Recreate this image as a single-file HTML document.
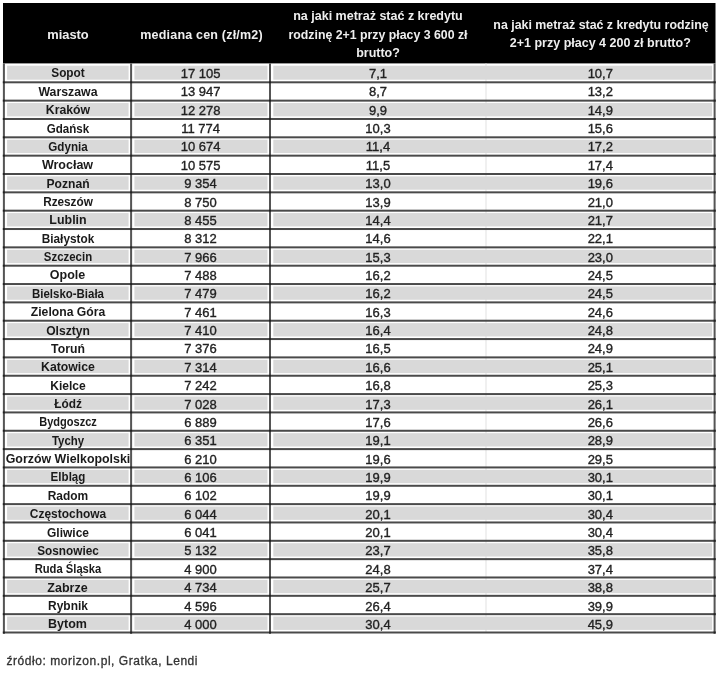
<!DOCTYPE html>
<html><head><meta charset="utf-8"><style>
*{margin:0;padding:0;box-sizing:border-box}
html,body{width:720px;height:673px;background:#fff;overflow:hidden}
body{position:relative;font-family:"Liberation Sans",sans-serif}
svg{position:absolute;left:0;top:0}
#w{position:absolute;left:0;top:0;width:720px;height:673px;filter:blur(0.4px)}
.t{position:absolute;white-space:nowrap;text-align:center;line-height:1;width:300px}
.c{font-weight:bold;font-size:12.5px;color:#1a1a1a}
.n{font-size:13px;color:#222;-webkit-text-stroke:0.35px #222}
.h{font-weight:bold;font-size:12.5px;color:#eee}
.f{position:absolute;white-space:nowrap;line-height:1;font-size:12px;color:#333;letter-spacing:0.55px;-webkit-text-stroke:0.3px #333}
</style></head>
<body>
<div id="w">
<svg width="720" height="673" viewBox="0 0 720 673">
<rect x="3" y="3" width="712.5" height="60.40" fill="#000"/>
<rect x="485.50" y="63.40" width="1" height="569.10" fill="#e2e2e2"/>
<rect x="7.10" y="65.70" width="121.50" height="14.00" fill="#d9d9d9"/>
<rect x="134.40" y="65.70" width="133.10" height="14.00" fill="#d9d9d9"/>
<rect x="273.30" y="65.70" width="438.80" height="14.00" fill="#d9d9d9"/>
<rect x="7.10" y="103.04" width="121.50" height="13.34" fill="#d9d9d9"/>
<rect x="134.40" y="103.04" width="133.10" height="13.34" fill="#d9d9d9"/>
<rect x="273.30" y="103.04" width="438.80" height="13.34" fill="#d9d9d9"/>
<rect x="7.10" y="139.72" width="121.50" height="13.34" fill="#d9d9d9"/>
<rect x="134.40" y="139.72" width="133.10" height="13.34" fill="#d9d9d9"/>
<rect x="273.30" y="139.72" width="438.80" height="13.34" fill="#d9d9d9"/>
<rect x="7.10" y="176.40" width="121.50" height="13.34" fill="#d9d9d9"/>
<rect x="134.40" y="176.40" width="133.10" height="13.34" fill="#d9d9d9"/>
<rect x="273.30" y="176.40" width="438.80" height="13.34" fill="#d9d9d9"/>
<rect x="7.10" y="213.08" width="121.50" height="13.34" fill="#d9d9d9"/>
<rect x="134.40" y="213.08" width="133.10" height="13.34" fill="#d9d9d9"/>
<rect x="273.30" y="213.08" width="438.80" height="13.34" fill="#d9d9d9"/>
<rect x="7.10" y="249.76" width="121.50" height="13.34" fill="#d9d9d9"/>
<rect x="134.40" y="249.76" width="133.10" height="13.34" fill="#d9d9d9"/>
<rect x="273.30" y="249.76" width="438.80" height="13.34" fill="#d9d9d9"/>
<rect x="7.10" y="286.44" width="121.50" height="13.34" fill="#d9d9d9"/>
<rect x="134.40" y="286.44" width="133.10" height="13.34" fill="#d9d9d9"/>
<rect x="273.30" y="286.44" width="438.80" height="13.34" fill="#d9d9d9"/>
<rect x="7.10" y="323.12" width="121.50" height="13.34" fill="#d9d9d9"/>
<rect x="134.40" y="323.12" width="133.10" height="13.34" fill="#d9d9d9"/>
<rect x="273.30" y="323.12" width="438.80" height="13.34" fill="#d9d9d9"/>
<rect x="7.10" y="359.80" width="121.50" height="13.34" fill="#d9d9d9"/>
<rect x="134.40" y="359.80" width="133.10" height="13.34" fill="#d9d9d9"/>
<rect x="273.30" y="359.80" width="438.80" height="13.34" fill="#d9d9d9"/>
<rect x="7.10" y="396.48" width="121.50" height="13.34" fill="#d9d9d9"/>
<rect x="134.40" y="396.48" width="133.10" height="13.34" fill="#d9d9d9"/>
<rect x="273.30" y="396.48" width="438.80" height="13.34" fill="#d9d9d9"/>
<rect x="7.10" y="433.16" width="121.50" height="13.34" fill="#d9d9d9"/>
<rect x="134.40" y="433.16" width="133.10" height="13.34" fill="#d9d9d9"/>
<rect x="273.30" y="433.16" width="438.80" height="13.34" fill="#d9d9d9"/>
<rect x="7.10" y="469.84" width="121.50" height="13.34" fill="#d9d9d9"/>
<rect x="134.40" y="469.84" width="133.10" height="13.34" fill="#d9d9d9"/>
<rect x="273.30" y="469.84" width="438.80" height="13.34" fill="#d9d9d9"/>
<rect x="7.10" y="506.52" width="121.50" height="13.34" fill="#d9d9d9"/>
<rect x="134.40" y="506.52" width="133.10" height="13.34" fill="#d9d9d9"/>
<rect x="273.30" y="506.52" width="438.80" height="13.34" fill="#d9d9d9"/>
<rect x="7.10" y="543.20" width="121.50" height="13.34" fill="#d9d9d9"/>
<rect x="134.40" y="543.20" width="133.10" height="13.34" fill="#d9d9d9"/>
<rect x="273.30" y="543.20" width="438.80" height="13.34" fill="#d9d9d9"/>
<rect x="7.10" y="579.88" width="121.50" height="13.34" fill="#d9d9d9"/>
<rect x="134.40" y="579.88" width="133.10" height="13.34" fill="#d9d9d9"/>
<rect x="273.30" y="579.88" width="438.80" height="13.34" fill="#d9d9d9"/>
<rect x="7.10" y="616.56" width="121.50" height="13.34" fill="#d9d9d9"/>
<rect x="134.40" y="616.56" width="133.10" height="13.34" fill="#d9d9d9"/>
<rect x="273.30" y="616.56" width="438.80" height="13.34" fill="#d9d9d9"/>
<rect x="2.90" y="81.30" width="712.70" height="2" fill="#4a4a4a"/>
<rect x="2.90" y="99.64" width="712.70" height="2" fill="#4a4a4a"/>
<rect x="2.90" y="117.98" width="712.70" height="2" fill="#4a4a4a"/>
<rect x="2.90" y="136.32" width="712.70" height="2" fill="#4a4a4a"/>
<rect x="2.90" y="154.66" width="712.70" height="2" fill="#4a4a4a"/>
<rect x="2.90" y="173.00" width="712.70" height="2" fill="#4a4a4a"/>
<rect x="2.90" y="191.34" width="712.70" height="2" fill="#4a4a4a"/>
<rect x="2.90" y="209.68" width="712.70" height="2" fill="#4a4a4a"/>
<rect x="2.90" y="228.02" width="712.70" height="2" fill="#4a4a4a"/>
<rect x="2.90" y="246.36" width="712.70" height="2" fill="#4a4a4a"/>
<rect x="2.90" y="264.70" width="712.70" height="2" fill="#4a4a4a"/>
<rect x="2.90" y="283.04" width="712.70" height="2" fill="#4a4a4a"/>
<rect x="2.90" y="301.38" width="712.70" height="2" fill="#4a4a4a"/>
<rect x="2.90" y="319.72" width="712.70" height="2" fill="#4a4a4a"/>
<rect x="2.90" y="338.06" width="712.70" height="2" fill="#4a4a4a"/>
<rect x="2.90" y="356.40" width="712.70" height="2" fill="#4a4a4a"/>
<rect x="2.90" y="374.74" width="712.70" height="2" fill="#4a4a4a"/>
<rect x="2.90" y="393.08" width="712.70" height="2" fill="#4a4a4a"/>
<rect x="2.90" y="411.42" width="712.70" height="2" fill="#4a4a4a"/>
<rect x="2.90" y="429.76" width="712.70" height="2" fill="#4a4a4a"/>
<rect x="2.90" y="448.10" width="712.70" height="2" fill="#4a4a4a"/>
<rect x="2.90" y="466.44" width="712.70" height="2" fill="#4a4a4a"/>
<rect x="2.90" y="484.78" width="712.70" height="2" fill="#4a4a4a"/>
<rect x="2.90" y="503.12" width="712.70" height="2" fill="#4a4a4a"/>
<rect x="2.90" y="521.46" width="712.70" height="2" fill="#4a4a4a"/>
<rect x="2.90" y="539.80" width="712.70" height="2" fill="#4a4a4a"/>
<rect x="2.90" y="558.14" width="712.70" height="2" fill="#4a4a4a"/>
<rect x="2.90" y="576.48" width="712.70" height="2" fill="#4a4a4a"/>
<rect x="2.90" y="594.82" width="712.70" height="2" fill="#4a4a4a"/>
<rect x="2.90" y="613.16" width="712.70" height="2" fill="#4a4a4a"/>
<rect x="2.90" y="631.50" width="712.70" height="2" fill="#4a4a4a"/>
<rect x="2.90" y="63.40" width="2" height="570.10" fill="#555"/>
<rect x="130.10" y="63.40" width="2" height="570.10" fill="#555"/>
<rect x="269.00" y="63.40" width="2" height="570.10" fill="#555"/>
<rect x="713.60" y="63.40" width="2" height="570.10" fill="#555"/>
<rect x="2.90" y="81.30" width="2" height="2" fill="#222"/>
<rect x="130.10" y="81.30" width="2" height="2" fill="#222"/>
<rect x="269.00" y="81.30" width="2" height="2" fill="#222"/>
<rect x="713.60" y="81.30" width="2" height="2" fill="#222"/>
<rect x="2.90" y="99.64" width="2" height="2" fill="#222"/>
<rect x="130.10" y="99.64" width="2" height="2" fill="#222"/>
<rect x="269.00" y="99.64" width="2" height="2" fill="#222"/>
<rect x="713.60" y="99.64" width="2" height="2" fill="#222"/>
<rect x="2.90" y="117.98" width="2" height="2" fill="#222"/>
<rect x="130.10" y="117.98" width="2" height="2" fill="#222"/>
<rect x="269.00" y="117.98" width="2" height="2" fill="#222"/>
<rect x="713.60" y="117.98" width="2" height="2" fill="#222"/>
<rect x="2.90" y="136.32" width="2" height="2" fill="#222"/>
<rect x="130.10" y="136.32" width="2" height="2" fill="#222"/>
<rect x="269.00" y="136.32" width="2" height="2" fill="#222"/>
<rect x="713.60" y="136.32" width="2" height="2" fill="#222"/>
<rect x="2.90" y="154.66" width="2" height="2" fill="#222"/>
<rect x="130.10" y="154.66" width="2" height="2" fill="#222"/>
<rect x="269.00" y="154.66" width="2" height="2" fill="#222"/>
<rect x="713.60" y="154.66" width="2" height="2" fill="#222"/>
<rect x="2.90" y="173.00" width="2" height="2" fill="#222"/>
<rect x="130.10" y="173.00" width="2" height="2" fill="#222"/>
<rect x="269.00" y="173.00" width="2" height="2" fill="#222"/>
<rect x="713.60" y="173.00" width="2" height="2" fill="#222"/>
<rect x="2.90" y="191.34" width="2" height="2" fill="#222"/>
<rect x="130.10" y="191.34" width="2" height="2" fill="#222"/>
<rect x="269.00" y="191.34" width="2" height="2" fill="#222"/>
<rect x="713.60" y="191.34" width="2" height="2" fill="#222"/>
<rect x="2.90" y="209.68" width="2" height="2" fill="#222"/>
<rect x="130.10" y="209.68" width="2" height="2" fill="#222"/>
<rect x="269.00" y="209.68" width="2" height="2" fill="#222"/>
<rect x="713.60" y="209.68" width="2" height="2" fill="#222"/>
<rect x="2.90" y="228.02" width="2" height="2" fill="#222"/>
<rect x="130.10" y="228.02" width="2" height="2" fill="#222"/>
<rect x="269.00" y="228.02" width="2" height="2" fill="#222"/>
<rect x="713.60" y="228.02" width="2" height="2" fill="#222"/>
<rect x="2.90" y="246.36" width="2" height="2" fill="#222"/>
<rect x="130.10" y="246.36" width="2" height="2" fill="#222"/>
<rect x="269.00" y="246.36" width="2" height="2" fill="#222"/>
<rect x="713.60" y="246.36" width="2" height="2" fill="#222"/>
<rect x="2.90" y="264.70" width="2" height="2" fill="#222"/>
<rect x="130.10" y="264.70" width="2" height="2" fill="#222"/>
<rect x="269.00" y="264.70" width="2" height="2" fill="#222"/>
<rect x="713.60" y="264.70" width="2" height="2" fill="#222"/>
<rect x="2.90" y="283.04" width="2" height="2" fill="#222"/>
<rect x="130.10" y="283.04" width="2" height="2" fill="#222"/>
<rect x="269.00" y="283.04" width="2" height="2" fill="#222"/>
<rect x="713.60" y="283.04" width="2" height="2" fill="#222"/>
<rect x="2.90" y="301.38" width="2" height="2" fill="#222"/>
<rect x="130.10" y="301.38" width="2" height="2" fill="#222"/>
<rect x="269.00" y="301.38" width="2" height="2" fill="#222"/>
<rect x="713.60" y="301.38" width="2" height="2" fill="#222"/>
<rect x="2.90" y="319.72" width="2" height="2" fill="#222"/>
<rect x="130.10" y="319.72" width="2" height="2" fill="#222"/>
<rect x="269.00" y="319.72" width="2" height="2" fill="#222"/>
<rect x="713.60" y="319.72" width="2" height="2" fill="#222"/>
<rect x="2.90" y="338.06" width="2" height="2" fill="#222"/>
<rect x="130.10" y="338.06" width="2" height="2" fill="#222"/>
<rect x="269.00" y="338.06" width="2" height="2" fill="#222"/>
<rect x="713.60" y="338.06" width="2" height="2" fill="#222"/>
<rect x="2.90" y="356.40" width="2" height="2" fill="#222"/>
<rect x="130.10" y="356.40" width="2" height="2" fill="#222"/>
<rect x="269.00" y="356.40" width="2" height="2" fill="#222"/>
<rect x="713.60" y="356.40" width="2" height="2" fill="#222"/>
<rect x="2.90" y="374.74" width="2" height="2" fill="#222"/>
<rect x="130.10" y="374.74" width="2" height="2" fill="#222"/>
<rect x="269.00" y="374.74" width="2" height="2" fill="#222"/>
<rect x="713.60" y="374.74" width="2" height="2" fill="#222"/>
<rect x="2.90" y="393.08" width="2" height="2" fill="#222"/>
<rect x="130.10" y="393.08" width="2" height="2" fill="#222"/>
<rect x="269.00" y="393.08" width="2" height="2" fill="#222"/>
<rect x="713.60" y="393.08" width="2" height="2" fill="#222"/>
<rect x="2.90" y="411.42" width="2" height="2" fill="#222"/>
<rect x="130.10" y="411.42" width="2" height="2" fill="#222"/>
<rect x="269.00" y="411.42" width="2" height="2" fill="#222"/>
<rect x="713.60" y="411.42" width="2" height="2" fill="#222"/>
<rect x="2.90" y="429.76" width="2" height="2" fill="#222"/>
<rect x="130.10" y="429.76" width="2" height="2" fill="#222"/>
<rect x="269.00" y="429.76" width="2" height="2" fill="#222"/>
<rect x="713.60" y="429.76" width="2" height="2" fill="#222"/>
<rect x="2.90" y="448.10" width="2" height="2" fill="#222"/>
<rect x="130.10" y="448.10" width="2" height="2" fill="#222"/>
<rect x="269.00" y="448.10" width="2" height="2" fill="#222"/>
<rect x="713.60" y="448.10" width="2" height="2" fill="#222"/>
<rect x="2.90" y="466.44" width="2" height="2" fill="#222"/>
<rect x="130.10" y="466.44" width="2" height="2" fill="#222"/>
<rect x="269.00" y="466.44" width="2" height="2" fill="#222"/>
<rect x="713.60" y="466.44" width="2" height="2" fill="#222"/>
<rect x="2.90" y="484.78" width="2" height="2" fill="#222"/>
<rect x="130.10" y="484.78" width="2" height="2" fill="#222"/>
<rect x="269.00" y="484.78" width="2" height="2" fill="#222"/>
<rect x="713.60" y="484.78" width="2" height="2" fill="#222"/>
<rect x="2.90" y="503.12" width="2" height="2" fill="#222"/>
<rect x="130.10" y="503.12" width="2" height="2" fill="#222"/>
<rect x="269.00" y="503.12" width="2" height="2" fill="#222"/>
<rect x="713.60" y="503.12" width="2" height="2" fill="#222"/>
<rect x="2.90" y="521.46" width="2" height="2" fill="#222"/>
<rect x="130.10" y="521.46" width="2" height="2" fill="#222"/>
<rect x="269.00" y="521.46" width="2" height="2" fill="#222"/>
<rect x="713.60" y="521.46" width="2" height="2" fill="#222"/>
<rect x="2.90" y="539.80" width="2" height="2" fill="#222"/>
<rect x="130.10" y="539.80" width="2" height="2" fill="#222"/>
<rect x="269.00" y="539.80" width="2" height="2" fill="#222"/>
<rect x="713.60" y="539.80" width="2" height="2" fill="#222"/>
<rect x="2.90" y="558.14" width="2" height="2" fill="#222"/>
<rect x="130.10" y="558.14" width="2" height="2" fill="#222"/>
<rect x="269.00" y="558.14" width="2" height="2" fill="#222"/>
<rect x="713.60" y="558.14" width="2" height="2" fill="#222"/>
<rect x="2.90" y="576.48" width="2" height="2" fill="#222"/>
<rect x="130.10" y="576.48" width="2" height="2" fill="#222"/>
<rect x="269.00" y="576.48" width="2" height="2" fill="#222"/>
<rect x="713.60" y="576.48" width="2" height="2" fill="#222"/>
<rect x="2.90" y="594.82" width="2" height="2" fill="#222"/>
<rect x="130.10" y="594.82" width="2" height="2" fill="#222"/>
<rect x="269.00" y="594.82" width="2" height="2" fill="#222"/>
<rect x="713.60" y="594.82" width="2" height="2" fill="#222"/>
<rect x="2.90" y="613.16" width="2" height="2" fill="#222"/>
<rect x="130.10" y="613.16" width="2" height="2" fill="#222"/>
<rect x="269.00" y="613.16" width="2" height="2" fill="#222"/>
<rect x="713.60" y="613.16" width="2" height="2" fill="#222"/>
<rect x="2.90" y="631.50" width="2" height="2" fill="#222"/>
<rect x="130.10" y="631.50" width="2" height="2" fill="#222"/>
<rect x="269.00" y="631.50" width="2" height="2" fill="#222"/>
<rect x="713.60" y="631.50" width="2" height="2" fill="#222"/>
</svg>
<div class="t h" style="left:-82.00px;top:29.22px;transform:scaleX(1.03)">miasto</div>
<div class="t h" style="left:51.55px;top:29.22px;letter-spacing:0.2px">mediana cen (zł/m2)</div>
<div class="t h" style="left:228.00px;top:10.42px">na jaki metraż stać z kredytu</div>
<div class="t h" style="left:228.00px;top:29.02px;transform:scaleX(0.985)">rodzinę 2+1 przy płacy 3 600 zł</div>
<div class="t h" style="left:228.00px;top:47.42px">brutto?</div>
<div class="t h" style="left:450.80px;top:19.42px;transform:scaleX(0.99)">na jaki metraż stać z kredytu rodzinę</div>
<div class="t h" style="left:450.30px;top:36.72px">2+1 przy płacy 4 200 zł brutto?</div>
<div class="t c" style="left:-82.50px;top:67.42px;transform:scaleX(0.946)">Sopot</div>
<div class="t n" style="left:50.55px;top:67.00px">17 105</div>
<div class="t n" style="left:228.00px;top:67.00px">7,1</div>
<div class="t n" style="left:450.30px;top:67.00px">10,7</div>
<div class="t c" style="left:-82.50px;top:85.78px;transform:scaleX(0.985)">Warszawa</div>
<div class="t n" style="left:50.55px;top:85.36px">13 947</div>
<div class="t n" style="left:228.00px;top:85.36px">8,7</div>
<div class="t n" style="left:450.30px;top:85.36px">13,2</div>
<div class="t c" style="left:-82.50px;top:104.15px;transform:scaleX(0.982)">Kraków</div>
<div class="t n" style="left:50.55px;top:103.73px">12 278</div>
<div class="t n" style="left:228.00px;top:103.73px">9,9</div>
<div class="t n" style="left:450.30px;top:103.73px">14,9</div>
<div class="t c" style="left:-82.50px;top:122.51px;transform:scaleX(0.927)">Gdańsk</div>
<div class="t n" style="left:50.55px;top:122.09px">11 774</div>
<div class="t n" style="left:228.00px;top:122.09px">10,3</div>
<div class="t n" style="left:450.30px;top:122.09px">15,6</div>
<div class="t c" style="left:-82.50px;top:140.88px;transform:scaleX(0.931)">Gdynia</div>
<div class="t n" style="left:50.55px;top:140.46px">10 674</div>
<div class="t n" style="left:228.00px;top:140.46px">11,4</div>
<div class="t n" style="left:450.30px;top:140.46px">17,2</div>
<div class="t c" style="left:-82.50px;top:159.24px">Wrocław</div>
<div class="t n" style="left:50.55px;top:158.82px">10 575</div>
<div class="t n" style="left:228.00px;top:158.82px">11,5</div>
<div class="t n" style="left:450.30px;top:158.82px">17,4</div>
<div class="t c" style="left:-82.50px;top:177.61px;transform:scaleX(0.970)">Poznań</div>
<div class="t n" style="left:50.55px;top:177.19px">9 354</div>
<div class="t n" style="left:228.00px;top:177.19px">13,0</div>
<div class="t n" style="left:450.30px;top:177.19px">19,6</div>
<div class="t c" style="left:-82.50px;top:195.97px;transform:scaleX(0.942)">Rzeszów</div>
<div class="t n" style="left:50.55px;top:195.55px">8 750</div>
<div class="t n" style="left:228.00px;top:195.55px">13,9</div>
<div class="t n" style="left:450.30px;top:195.55px">21,0</div>
<div class="t c" style="left:-82.50px;top:214.34px;transform:scaleX(0.994)">Lublin</div>
<div class="t n" style="left:50.55px;top:213.92px">8 455</div>
<div class="t n" style="left:228.00px;top:213.92px">14,4</div>
<div class="t n" style="left:450.30px;top:213.92px">21,7</div>
<div class="t c" style="left:-82.50px;top:232.70px;transform:scaleX(0.944)">Białystok</div>
<div class="t n" style="left:50.55px;top:232.28px">8 312</div>
<div class="t n" style="left:228.00px;top:232.28px">14,6</div>
<div class="t n" style="left:450.30px;top:232.28px">22,1</div>
<div class="t c" style="left:-82.50px;top:251.07px;transform:scaleX(0.914)">Szczecin</div>
<div class="t n" style="left:50.55px;top:250.65px">7 966</div>
<div class="t n" style="left:228.00px;top:250.65px">15,3</div>
<div class="t n" style="left:450.30px;top:250.65px">23,0</div>
<div class="t c" style="left:-82.50px;top:269.43px">Opole</div>
<div class="t n" style="left:50.55px;top:269.01px">7 488</div>
<div class="t n" style="left:228.00px;top:269.01px">16,2</div>
<div class="t n" style="left:450.30px;top:269.01px">24,5</div>
<div class="t c" style="left:-82.50px;top:287.80px;transform:scaleX(0.917)">Bielsko-Biała</div>
<div class="t n" style="left:50.55px;top:287.38px">7 479</div>
<div class="t n" style="left:228.00px;top:287.38px">16,2</div>
<div class="t n" style="left:450.30px;top:287.38px">24,5</div>
<div class="t c" style="left:-82.50px;top:306.16px;transform:scaleX(0.974)">Zielona Góra</div>
<div class="t n" style="left:50.55px;top:305.74px">7 461</div>
<div class="t n" style="left:228.00px;top:305.74px">16,3</div>
<div class="t n" style="left:450.30px;top:305.74px">24,6</div>
<div class="t c" style="left:-82.50px;top:324.53px;transform:scaleX(0.968)">Olsztyn</div>
<div class="t n" style="left:50.55px;top:324.11px">7 410</div>
<div class="t n" style="left:228.00px;top:324.11px">16,4</div>
<div class="t n" style="left:450.30px;top:324.11px">24,8</div>
<div class="t c" style="left:-82.50px;top:342.89px;transform:scaleX(0.979)">Toruń</div>
<div class="t n" style="left:50.55px;top:342.47px">7 376</div>
<div class="t n" style="left:228.00px;top:342.47px">16,5</div>
<div class="t n" style="left:450.30px;top:342.47px">24,9</div>
<div class="t c" style="left:-82.50px;top:361.26px;transform:scaleX(0.981)">Katowice</div>
<div class="t n" style="left:50.55px;top:360.84px">7 314</div>
<div class="t n" style="left:228.00px;top:360.84px">16,6</div>
<div class="t n" style="left:450.30px;top:360.84px">25,1</div>
<div class="t c" style="left:-82.50px;top:379.62px;transform:scaleX(0.966)">Kielce</div>
<div class="t n" style="left:50.55px;top:379.20px">7 242</div>
<div class="t n" style="left:228.00px;top:379.20px">16,8</div>
<div class="t n" style="left:450.30px;top:379.20px">25,3</div>
<div class="t c" style="left:-82.50px;top:397.99px;transform:scaleX(0.948)">Łódź</div>
<div class="t n" style="left:50.55px;top:397.57px">7 028</div>
<div class="t n" style="left:228.00px;top:397.57px">17,3</div>
<div class="t n" style="left:450.30px;top:397.57px">26,1</div>
<div class="t c" style="left:-82.50px;top:416.35px;transform:scaleX(0.883)">Bydgoszcz</div>
<div class="t n" style="left:50.55px;top:415.93px">6 889</div>
<div class="t n" style="left:228.00px;top:415.93px">17,6</div>
<div class="t n" style="left:450.30px;top:415.93px">26,6</div>
<div class="t c" style="left:-82.50px;top:434.72px;transform:scaleX(0.914)">Tychy</div>
<div class="t n" style="left:50.55px;top:434.30px">6 351</div>
<div class="t n" style="left:228.00px;top:434.30px">19,1</div>
<div class="t n" style="left:450.30px;top:434.30px">28,9</div>
<div class="t c" style="left:-82.50px;top:453.08px;transform:scaleX(0.992)">Gorzów Wielkopolski</div>
<div class="t n" style="left:50.55px;top:452.66px">6 210</div>
<div class="t n" style="left:228.00px;top:452.66px">19,6</div>
<div class="t n" style="left:450.30px;top:452.66px">29,5</div>
<div class="t c" style="left:-82.50px;top:471.45px;transform:scaleX(0.926)">Elbląg</div>
<div class="t n" style="left:50.55px;top:471.03px">6 106</div>
<div class="t n" style="left:228.00px;top:471.03px">19,9</div>
<div class="t n" style="left:450.30px;top:471.03px">30,1</div>
<div class="t c" style="left:-82.50px;top:489.81px;transform:scaleX(0.956)">Radom</div>
<div class="t n" style="left:50.55px;top:489.39px">6 102</div>
<div class="t n" style="left:228.00px;top:489.39px">19,9</div>
<div class="t n" style="left:450.30px;top:489.39px">30,1</div>
<div class="t c" style="left:-82.50px;top:508.18px;transform:scaleX(0.956)">Częstochowa</div>
<div class="t n" style="left:50.55px;top:507.76px">6 044</div>
<div class="t n" style="left:228.00px;top:507.76px">20,1</div>
<div class="t n" style="left:450.30px;top:507.76px">30,4</div>
<div class="t c" style="left:-82.50px;top:526.54px;transform:scaleX(0.958)">Gliwice</div>
<div class="t n" style="left:50.55px;top:526.12px">6 041</div>
<div class="t n" style="left:228.00px;top:526.12px">20,1</div>
<div class="t n" style="left:450.30px;top:526.12px">30,4</div>
<div class="t c" style="left:-82.50px;top:544.91px;transform:scaleX(0.943)">Sosnowiec</div>
<div class="t n" style="left:50.55px;top:544.49px">5 132</div>
<div class="t n" style="left:228.00px;top:544.49px">23,7</div>
<div class="t n" style="left:450.30px;top:544.49px">35,8</div>
<div class="t c" style="left:-82.50px;top:563.27px;transform:scaleX(0.896)">Ruda Śląska</div>
<div class="t n" style="left:50.55px;top:562.85px">4 900</div>
<div class="t n" style="left:228.00px;top:562.85px">24,8</div>
<div class="t n" style="left:450.30px;top:562.85px">37,4</div>
<div class="t c" style="left:-82.50px;top:581.64px">Zabrze</div>
<div class="t n" style="left:50.55px;top:581.22px">4 734</div>
<div class="t n" style="left:228.00px;top:581.22px">25,7</div>
<div class="t n" style="left:450.30px;top:581.22px">38,8</div>
<div class="t c" style="left:-82.50px;top:600.00px;transform:scaleX(0.957)">Rybnik</div>
<div class="t n" style="left:50.55px;top:599.58px">4 596</div>
<div class="t n" style="left:228.00px;top:599.58px">26,4</div>
<div class="t n" style="left:450.30px;top:599.58px">39,9</div>
<div class="t c" style="left:-82.50px;top:618.37px">Bytom</div>
<div class="t n" style="left:50.55px;top:617.95px">4 000</div>
<div class="t n" style="left:228.00px;top:617.95px">30,4</div>
<div class="t n" style="left:450.30px;top:617.95px">45,9</div>
<div class="f" style="left:6.5px;top:655.04px">źródło: morizon.pl, Gratka, Lendi</div>
</div>
</body></html>
